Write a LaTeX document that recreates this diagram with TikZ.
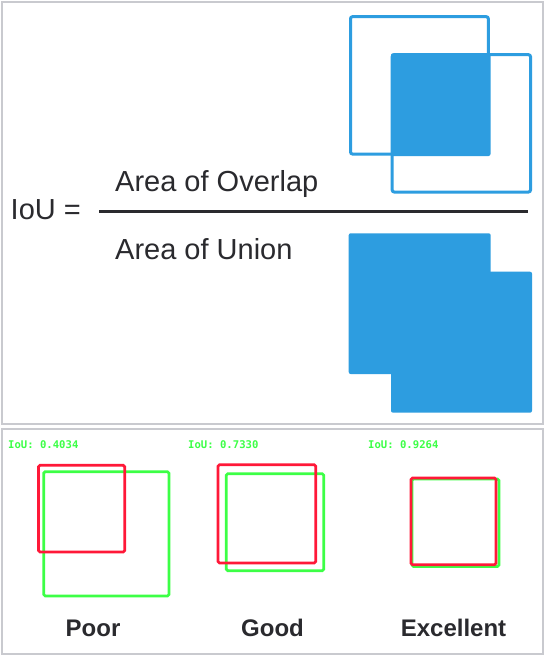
\documentclass[tikz,border=0pt]{standalone}
\usepackage{fontspec}
\setmainfont{Liberation Sans}
\newfontfamily\cvfont{DejaVu Sans Mono}
\usetikzlibrary{positioning}
\definecolor{ioublue}{HTML}{2D9DE0}
\definecolor{predred}{HTML}{FF1838}
\definecolor{truthgreen}{HTML}{3CFF46}
\definecolor{framegray}{HTML}{C9CACF}
\definecolor{inkgray}{HTML}{2A2A2E}
\newcommand{\bboxp}[3]{
	\draw[#1, line width=2.7, rounded corners=1.5] #2 rectangle #3;
}
\newcommand{\scorep}[3]{
	\node[anchor=base west, inner sep=0, text=truthgreen, font=\cvfont\bfseries\fontsize{10.6}{12}\selectfont] (#1) at #2 {IoU: #3};
}

\begin{document}
\begin{tikzpicture}[x=1pt, y=-1pt]
		\useasboundingbox[fill=white] (0,0) rectangle (547,658);
		\draw[framegray, line width=2] (2,2) rectangle (542.7,423.7);
		\draw[framegray, line width=2] (2,429) rectangle (542.7,653.7);

		\node[anchor=base west, inner sep=0, text=inkgray, font=\fontsize{29}{34}\selectfont] (iou) at (10.5,219) {IoU =};
		\node[anchor=base west, inner sep=0, text=inkgray, font=\fontsize{29}{34}\selectfont] (overlap) at (115,191) {Area of Overlap};
		\node[anchor=base west, inner sep=0, text=inkgray, font=\fontsize{29}{34}\selectfont] (union) at (115,259) {Area of Union};
		\draw[inkgray, line width=2.2] (99,211.5) -- (528,211.5);

		\draw[ioublue, line width=3, rounded corners=2] (350.5,16.7) rectangle (488.3,154);
		\draw[ioublue, line width=3, rounded corners=2] (392.2,54.7) rectangle (530.5,192);
		\fill[ioublue, rounded corners=2] (391,53.3) rectangle (490.5,156);

		\fill[ioublue, rounded corners=2] (348.7,233.3) rectangle (490.7,374);
		\fill[ioublue, rounded corners=2] (391,271.7) rectangle (532,412.7);

		\scorep{poorscore}{(8,448.5)}{0.4034}
		\scorep{goodscore}{(188,448.5)}{0.7330}
		\scorep{bestscore}{(368,448.5)}{0.9264}

		\bboxp{truthgreen}{(43.7,471.7)}{(169,596)}
		\bboxp{predred}{(38.5,465.3)}{(124.7,552)}

		\bboxp{truthgreen}{(226.3,473.7)}{(323.7,570.7)}
		\bboxp{predred}{(218,464.7)}{(315.7,563)}

		\bboxp{truthgreen}{(412,479)}{(499,566.5)}
		\bboxp{predred}{(411,478)}{(496,564.7)}

		\node[anchor=base, inner sep=0, text=inkgray, font=\bfseries\fontsize{24}{28}\selectfont] (poor) at (93,636) {Poor};
		\node[anchor=base, inner sep=0, text=inkgray, font=\bfseries\fontsize{24}{28}\selectfont] (good) at (272.5,636) {Good};
		\node[anchor=base, inner sep=0, text=inkgray, font=\bfseries\fontsize{24}{28}\selectfont] (excellent) at (453.5,636) {Excellent};
	\end{tikzpicture}
\end{document}
